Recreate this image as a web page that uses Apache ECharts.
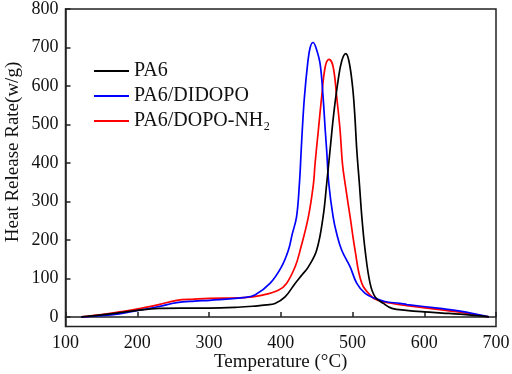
<!DOCTYPE html>
<html>
<head>
<meta charset="utf-8">
<script src="https://cdn.jsdelivr.net/npm/echarts@6/dist/echarts.min.js"></script>
<style>
  html, body { margin: 0; padding: 0; background: #fff; }
  #chart { width: 512px; height: 374px; }
</style>
</head>
<body>
<div id="chart"></div>
<script>
// 数据：温度 (°C) 与 热释放速率 (w/g)
const seriesNames = ['PA6', 'PA6/DIDOPO', 'PA6/DOPO-NH₂']
const seriesColors = ['#000000', '#0000ff', '#ff0000']

const tempPA6 = [122, 150, 180, 200, 230, 260, 300, 340, 364, 380, 392, 406, 420, 430, 438.5, 450, 459, 464, 468.7, 474, 480, 485, 490.6, 495, 500, 503, 506, 509.6, 513, 517.6, 524.5, 531.5, 543, 555, 575, 600, 625, 650, 690]
const hrrPA6 = [0, 5, 12, 17, 22, 23, 23, 25, 28, 31, 35, 52, 87, 110, 130, 173, 260, 346, 433, 530, 615, 665, 684, 665, 600, 530, 433, 346, 260, 173, 87, 52, 35, 22, 17, 13, 10, 7, 0]

const tempDIDOPO = [122, 150, 175, 199, 230, 255, 280, 301, 348, 364, 385, 401, 410.6, 416, 422, 426, 428.5, 430, 433, 437.5, 441, 445, 449, 454.8, 459, 462, 464, 467, 473, 478, 485, 496.7, 506, 517.6, 531.5, 545, 566, 576, 622, 650, 690]
const hrrDIDOPO = [0, 3, 8, 16, 27, 37, 41, 43, 50, 57, 87, 130, 173, 215, 260, 346, 433, 485, 571, 658, 700, 713, 700, 658, 571, 485, 433, 346, 260, 216, 173, 130, 87, 61, 48, 40, 35, 32, 22, 15, 0]

const tempDOPO = [122, 150, 175, 199, 230, 255, 280, 301, 348, 373, 396.6, 408, 420, 427, 438.5, 445.6, 447.8, 452.4, 457, 462, 467.4, 473, 478, 482.7, 486, 489.7, 496.7, 503.6, 513, 527, 536, 552, 576, 622, 650, 690]
const hrrDOPO = [0, 6, 13, 20, 32, 43, 46, 48, 50, 56, 69, 87, 130, 173, 260, 346, 398, 485, 571, 650, 669, 650, 571, 485, 398, 346, 260, 173, 87, 52, 43, 36, 29, 19, 12, 0]

const yTicks = [0, 100, 200, 300, 400, 500, 600, 700, 800]

const FONT = 'Liberation Serif, Times New Roman, serif'

function pairs(xs, ys) {
  return xs.map((x, i) => [x, ys[i]])
}

const dataList = [
  pairs(tempPA6, hrrPA6),
  pairs(tempDIDOPO, hrrDIDOPO),
  pairs(tempDOPO, hrrDOPO)
]

const chart = echarts.init(document.getElementById('chart'), null, { renderer: 'canvas' })

const option = {
  animation: false,
  backgroundColor: '#ffffff',
  textStyle: { fontFamily: FONT },
  grid: {
    left: 65.5,
    right: 16,
    top: 9,
    bottom: 47.5,
    outerBoundsMode: 'none',
    show: true,
    borderColor: '#222',
    borderWidth: 1.5
  },
  legend: {
    left: 94,
    top: 61,
    padding: 0,
    orient: 'vertical',
    icon: 'rect',
    itemWidth: 35,
    itemHeight: 2,
    itemGap: 5,
    textStyle: {
      fontFamily: FONT,
      fontSize: 20,
      lineHeight: 19,
      color: '#111'
    },
    data: seriesNames
  },
  xAxis: {
    type: 'value',
    min: 100,
    max: 700,
    interval: 100,
    name: 'Temperature (°C)',
    nameLocation: 'middle',
    nameGap: 26,
    nameMoveOverlap: false,
    nameTextStyle: { fontFamily: FONT, fontSize: 19, color: '#111' },
    axisLine: { lineStyle: { color: '#222', width: 1.5 } },
    axisTick: { inside: true, length: 5, lineStyle: { color: '#222', width: 1.5 } },
    axisLabel: { fontFamily: FONT, fontSize: 18, color: '#111', margin: 8 },
    splitLine: { show: false }
  },
  yAxis: {
    type: 'value',
    min: -25,
    max: 800,
    axisLine: { show: true, lineStyle: { color: '#222', width: 1.5 } },
    axisTick: { show: true, inside: true, length: 5, customValues: yTicks, lineStyle: { color: '#222', width: 1.5 } },
    axisLabel: { fontFamily: FONT, fontSize: 18, color: '#111', margin: 7, customValues: yTicks },
    splitLine: { show: false }
  },
  graphic: [
    {
      type: 'text',
      x: 13,
      y: 152,
      rotation: Math.PI / 2,
      style: {
        text: 'Heat Release Rate(w/g)',
        fontFamily: FONT,
        fontSize: 19,
        fill: '#111',
        align: 'center',
        verticalAlign: 'middle'
      }
    }
  ],
  series: seriesNames.map((name, i) => ({
    name: name,
    type: 'line',
    data: dataList[i],
    symbol: 'none',
    smooth: 0.4,
    lineStyle: { color: seriesColors[i], width: 1.7 },
    itemStyle: { color: seriesColors[i] },
    z: 3 - i
  }))
}

chart.setOption(option)
</script>
</body>
</html>
